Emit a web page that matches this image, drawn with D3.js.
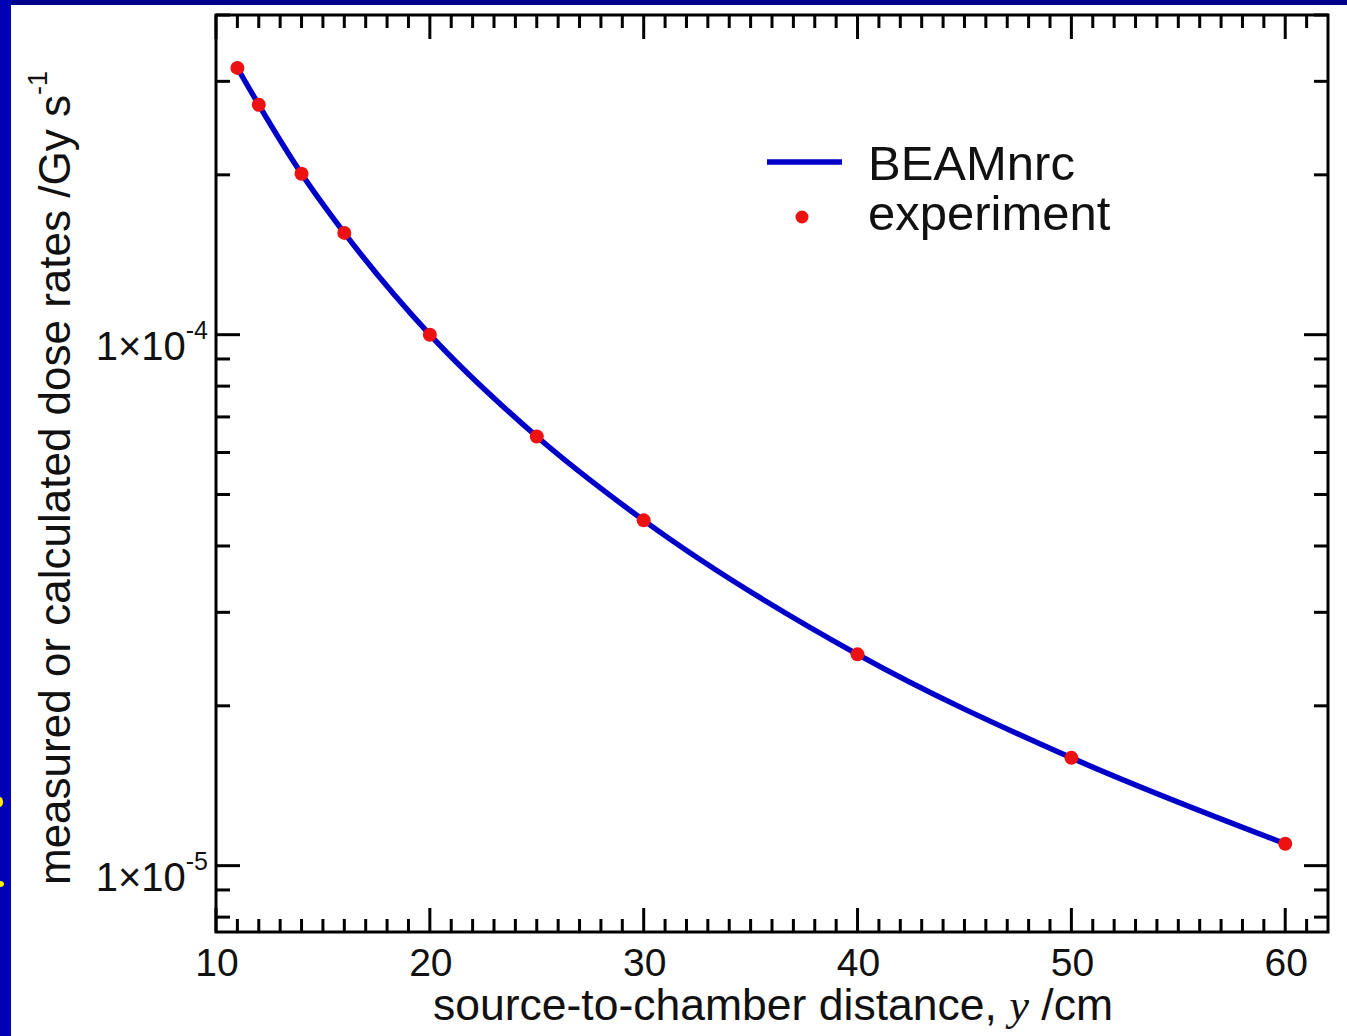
<!DOCTYPE html>
<html>
<head>
<meta charset="utf-8">
<script src="https://cdn.jsdelivr.net/npm/d3@7/dist/d3.min.js"></script>
<style>
  html, body { margin: 0; padding: 0; background: #ffffff; }
  svg { display: block; }
  text { font-family: "Liberation Sans", Arial, Helvetica, sans-serif; fill: #111; }
</style>
</head>
<body>
<svg id="chart" width="1347" height="1036"></svg>
<script>
// ---- data ----
const distances = [11, 12, 14, 16, 20, 25, 30, 40, 50, 60];
const experiment = [3.18e-4, 2.71e-4, 2.01e-4, 1.555e-4, 1.0e-4, 6.43e-5, 4.47e-5, 2.50e-5, 1.596e-5, 1.10e-5];
const beamnrc = [3.18e-4, 2.71e-4, 2.01e-4, 1.555e-4, 1.0e-4, 6.43e-5, 4.47e-5, 2.50e-5, 1.596e-5, 1.10e-5];
const xMajorTicks = [10, 20, 30, 40, 50, 60];
const yMajorTicks = [1e-5, 1e-4];
const yMajorExp = ["-5", "-4"];
const xDomain = [10, 62];
const yDomain = [7.5e-6, 4e-4];
const legendLabels = ["BEAMnrc", "experiment"];

// ---- layout ----
const W = 1347, H = 1036;
const L = 216, R = 1328, T = 15, B = 932;
const svg = d3.select("#chart");

// background frame (slide remnants)
svg.append("rect").attr("x", 0).attr("y", 0).attr("width", W).attr("height", H).attr("fill", "#ffffff");
svg.append("rect").attr("x", 0).attr("y", 0).attr("width", W).attr("height", 5).attr("fill", "#00008c");
svg.append("rect").attr("x", 0).attr("y", 0).attr("width", 11).attr("height", H).attr("fill", "#0000b4");
svg.append("ellipse").attr("cx", 0).attr("cy", 802).attr("rx", 3).attr("ry", 5).attr("fill", "#ffee00");
svg.append("ellipse").attr("cx", 0).attr("cy", 884).attr("rx", 4).attr("ry", 3).attr("fill", "#ffee00");

const x = d3.scaleLinear().domain(xDomain).range([L, R]);
const y = d3.scaleLog().domain(yDomain).range([B, T]);

// minor ticks
const xMinor = d3.range(11, 62).filter(v => v % 10 !== 0);
const yMinor = [];
[-6, -5, -4].forEach(e => { for (let k = 2; k <= 9; k++) { const v = k * Math.pow(10, e); if (v >= yDomain[0] && v <= yDomain[1]) yMinor.push(v); } });

const tickG = svg.append("g").attr("stroke", "#000").attr("stroke-width", 3);
const MAJ = 24, MIN = 13;
function xt(vals, len) {
  vals.forEach(v => {
    tickG.append("line").attr("x1", x(v)).attr("x2", x(v)).attr("y1", B).attr("y2", B - len);
    tickG.append("line").attr("x1", x(v)).attr("x2", x(v)).attr("y1", T).attr("y2", T + len);
  });
}
function yt(vals, len) {
  vals.forEach(v => {
    tickG.append("line").attr("x1", L).attr("x2", L + len).attr("y1", y(v)).attr("y2", y(v));
    tickG.append("line").attr("x1", R).attr("x2", R - len).attr("y1", y(v)).attr("y2", y(v));
  });
}
xt(xMinor, MIN); xt(xMajorTicks, MAJ);
yt(yMinor, MIN + 1); yt(yMajorTicks, MAJ);

// frame
svg.append("rect").attr("x", L).attr("y", T).attr("width", R - L).attr("height", B - T)
  .attr("fill", "none").attr("stroke", "#000").attr("stroke-width", 3);

// x tick labels
svg.append("g").selectAll("text").data(xMajorTicks).join("text")
  .attr("x", d => x(d) + 1).attr("y", B + 44)
  .attr("text-anchor", "middle").attr("font-size", 39).text(d => d);

// y tick labels
yMajorTicks.forEach((v, i) => {
  const t = svg.append("text").attr("x", 208).attr("y", y(v) + 25)
    .attr("text-anchor", "end").attr("font-size", 40);
  t.append("tspan").text("1×10");
  t.append("tspan").attr("dy", -21).attr("font-size", 25).text(yMajorExp[i]);
});

// axis titles
const xt1 = svg.append("text").attr("x", 773).attr("y", 1020).attr("text-anchor", "middle").attr("font-size", 44.5);
xt1.append("tspan").text("source-to-chamber distance, ");
xt1.append("tspan").attr("font-family", "'Liberation Serif', 'Times New Roman', serif").attr("font-style", "italic").text("y");
xt1.append("tspan").text(" /cm");

const yt1 = svg.append("text").attr("transform", "translate(70,885) rotate(-90)").attr("text-anchor", "start").attr("font-size", 44);
yt1.append("tspan").text("measured or calculated dose rates /Gy s");
yt1.append("tspan").attr("dy", -23).attr("font-size", 27).text("-1");

// line
const line = d3.line().x((d, i) => x(distances[i])).y(d => y(d)).curve(d3.curveMonotoneX);
svg.append("path").datum(beamnrc).attr("d", line)
  .attr("fill", "none").attr("stroke", "#0000c8").attr("stroke-width", 5.5);

// points
svg.append("g").selectAll("circle").data(experiment).join("circle")
  .attr("cx", (d, i) => x(distances[i])).attr("cy", d => y(d)).attr("r", 7)
  .attr("fill", "#ee1111");

// legend
svg.append("line").attr("x1", 767).attr("x2", 842).attr("y1", 162).attr("y2", 162)
  .attr("stroke", "#0000c8").attr("stroke-width", 5.5);
svg.append("circle").attr("cx", 802).attr("cy", 217).attr("r", 6.5).attr("fill", "#ee1111");
svg.append("text").attr("x", 868).attr("y", 180).attr("font-size", 49).text(legendLabels[0]);
svg.append("text").attr("x", 868).attr("y", 230).attr("font-size", 49).text(legendLabels[1]);
</script>
</body>
</html>
